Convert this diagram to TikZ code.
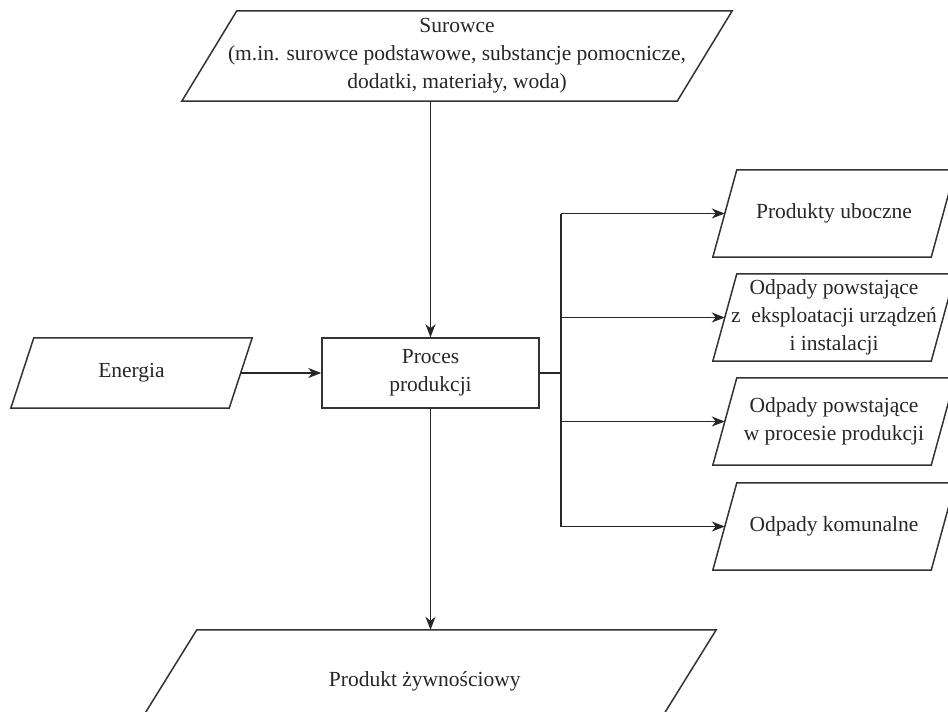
\documentclass[tikz,border=0pt]{standalone}
\usepackage{fontspec}
\setmainfont{Liberation Serif}
\usetikzlibrary{arrows.meta}
\newcommand\drawpara[2]{\draw[paraline] ([xshift=#2/2]#1.north west) -- ([xshift=#2/2]#1.north east) -- ([xshift=-#2/2]#1.south east) -- ([xshift=-#2/2]#1.south west) -- cycle;}
\begin{document}
\begin{tikzpicture}[x=1pt,y=-1pt,
  every node/.style={font=\fontsize{21.5}{28}\selectfont, text=black!85, align=center, inner sep=0pt},
  parabox/.style={rectangle, minimum width=#1},
  paraline/.style={draw=black!80, line width=1.5pt, line join=miter},
  procbox/.style={draw=black!80, rectangle, minimum width=217pt, minimum height=70pt, line width=1.5pt},
  conn/.style={draw=black!85, line width=1.5pt},
  arr/.style={conn, -{Stealth[length=13pt,width=10pt,inset=4pt]}}
]
\useasboundingbox (0,0) rectangle (948,712);
\clip (0,0) rectangle (948,712);

\node[parabox=495pt, minimum height=90pt] (sw) at (457,56)
  {Surowce\\(m.in. surowce podstawowe, substancje pomocnicze,\\dodatki, materiały, woda)};
\drawpara{sw}{55}

\node[parabox=218pt, minimum height=70pt] (en) at (131.5,373) {Energia};
\drawpara{en}{23}

\node[procbox] (pr) at (430.5,373) {Proces\\produkcji};

\tikzset{rbox/.style={parabox=218pt, minimum height=87pt}}
\node[rbox] (b1) at (834,213.5) {Produkty uboczne};
\node[rbox] (b2) at (834,317.5) {Odpady powstające\\z\ \ eksploatacji urządzeń\\i instalacji};
\node[rbox] (b3) at (834,421.5) {Odpady powstające\\w procesie produkcji};
\node[rbox] (b4) at (834,526.5) {Odpady komunalne};
\drawpara{b1}{24}
\drawpara{b2}{24}
\drawpara{b3}{24}
\drawpara{b4}{24}

\node[parabox=519pt, minimum height=102pt] (pk) at (424.75,681) {Produkt żywnościowy};
\drawpara{pk}{63.5}

\coordinate (bus) at (561,373);

\draw[arr] (pr.north |- sw.south) -- (pr.north);
\draw[arr] (en.east) -- (pr.west);
\draw[conn] (pr.east) -- (bus);
\draw[conn] (bus |- b1.west) -- (bus |- b4.west);
\draw[arr] (bus |- b1.west) -- (b1.west);
\draw[arr] (bus |- b2.west) -- (b2.west);
\draw[arr] (bus |- b3.west) -- (b3.west);
\draw[arr] (bus |- b4.west) -- (b4.west);
\draw[arr] (pr.south) -- (pr.south |- pk.north);
\end{tikzpicture}
\end{document}
